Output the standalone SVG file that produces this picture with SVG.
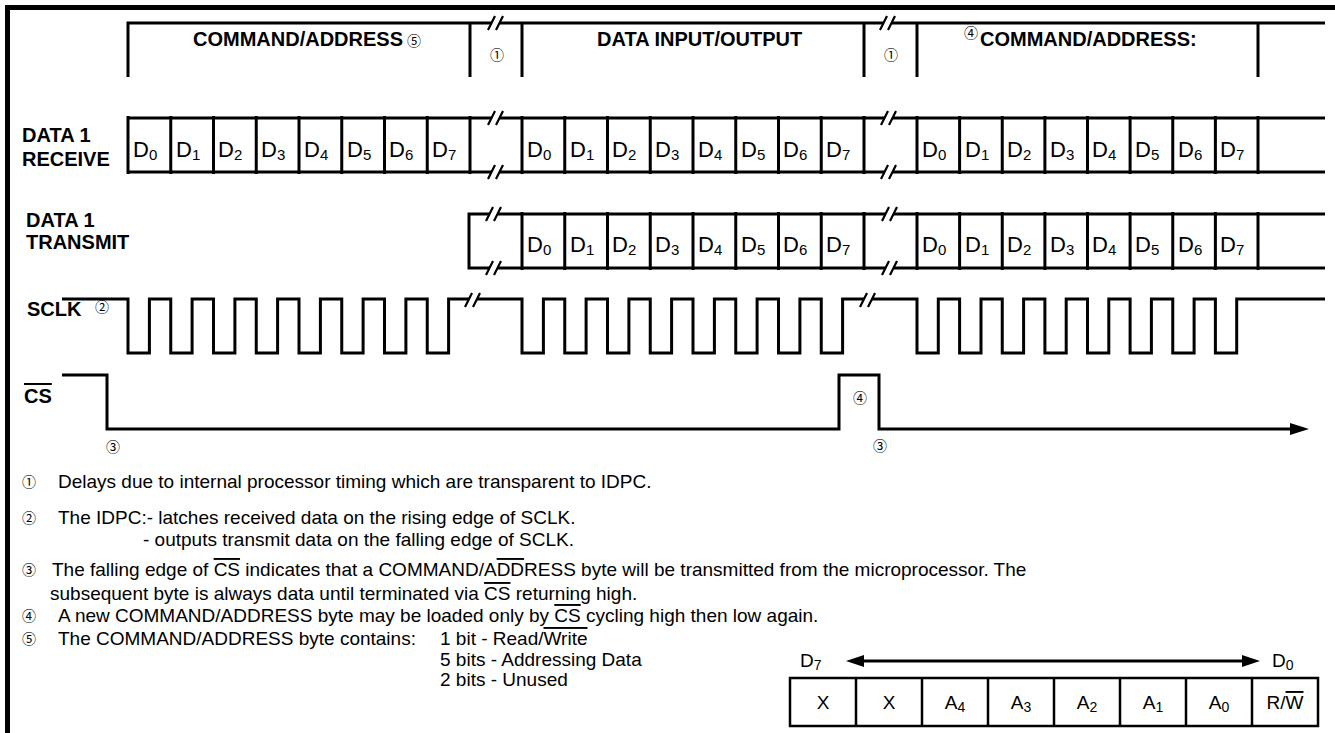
<svg xmlns="http://www.w3.org/2000/svg" width="1335" height="733" viewBox="0 0 1335 733">
<style>
.ln{stroke:#000;stroke-width:3;fill:none}
.bx{stroke:#000;stroke-width:2.5;fill:none}
.bk{stroke:#000;stroke-width:2.2;fill:none}
.lbl{font-family:"Liberation Sans",Arial,sans-serif;font-weight:bold;font-size:20px;fill:#000}
.d{font-family:"Liberation Sans",Arial,sans-serif;font-size:22px;fill:#000}
.n{font-family:"Liberation Sans",Arial,sans-serif;font-size:19px;fill:#000}
.c{font-family:"Noto Sans CJK JP","DejaVu Sans",sans-serif;font-size:14px;fill:#000}
.ov{text-decoration:overline}
</style>
<defs>
<g id="brk"><path class="bk" d="M-8,7 L-1,-7 M0,7 L7,-7"/></g>
</defs>
<g id="frame"><path d="M5,7.5 H1335 M7.5,5 V733" stroke="#000" stroke-width="5" fill="none"/></g>

<g id="connectors">
<path class="ln" d="M128,77 V23 H492 M500,23 H884 M892,23 H1325 M470,23 V77 M522,23 V77 M864,23 V77 M917,23 V77 M1258,23 V77"/>
<use href="#brk" x="496" y="23"/><use href="#brk" x="888" y="23"/>
<path class="ln" d="M128,118 H492 M500,118 H885 M893,118 H1325 M128,172 H492 M500,172 H885 M893,172 H1325"/>
<path class="ln" d="M128,116 V174 M170.75,116 V174 M213.5,116 V174 M256.25,116 V174 M299,116 V174 M341.75,116 V174 M384.5,116 V174 M427.25,116 V174 M470,116 V174 M522,116 V174 M564.75,116 V174 M607.5,116 V174 M650.25,116 V174 M693,116 V174 M735.75,116 V174 M778.5,116 V174 M821.25,116 V174 M864,116 V174 M917,116 V174 M959.6,116 V174 M1002.25,116 V174 M1044.9,116 V174 M1087.5,116 V174 M1130.1,116 V174 M1172.75,116 V174 M1215.4,116 V174 M1258,116 V174"/>
<use href="#brk" x="496" y="118"/><use href="#brk" x="496" y="172"/><use href="#brk" x="889" y="118"/><use href="#brk" x="889" y="172"/>
<path class="ln" d="M490,214 H469 V268 H490 M498,214 H886 M894,214 H1325 M498,268 H886 M894,268 H1325"/>
<path class="ln" d="M522,212 V270 M564.75,212 V270 M607.5,212 V270 M650.25,212 V270 M693,212 V270 M735.75,212 V270 M778.5,212 V270 M821.25,212 V270 M864,212 V270 M917,212 V270 M959.6,212 V270 M1002.25,212 V270 M1044.9,212 V270 M1087.5,212 V270 M1130.1,212 V270 M1172.75,212 V270 M1215.4,212 V270 M1258,212 V270"/>
<use href="#brk" x="494" y="214"/><use href="#brk" x="494" y="268"/><use href="#brk" x="890" y="214"/><use href="#brk" x="890" y="268"/>
<path id="sclk" class="ln" d="M62,299 H128 V353 H149.4 V299 H170.75 V353 H192.1 V299 H213.5 V353 H234.9 V299 H256.25 V353 H277.6 V299 H299 V353 H320.4 V299 H341.75 V353 H363.1 V299 H384.5 V353 H405.9 V299 H427.25 V353 H448.6 V299 H469 M477,299 H522 V353 H543.4 V299 H564.75 V353 H586.1 V299 H607.5 V353 H628.9 V299 H650.25 V353 H671.6 V299 H693 V353 H714.4 V299 H735.75 V353 H757.1 V299 H778.5 V353 H799.9 V299 H821.25 V353 H842.6 V299 H864 M872,299 H917 V353 H938.3 V299 H959.6 V353 H981 V299 H1002.25 V353 H1023.6 V299 H1044.9 V353 H1066.2 V299 H1087.5 V353 H1108.8 V299 H1130.1 V353 H1151.4 V299 H1172.75 V353 H1194.1 V299 H1215.4 V353 H1236.7 V299 H1325"/>
<use href="#brk" x="473" y="300"/><use href="#brk" x="868" y="300"/>
<path id="cs" class="ln" d="M62,375 H107 V429 H839 V375 H879 V429 H1292"/>
<polygon points="1290,423 1309,429 1290,435" fill="#000"/>
</g>

<g id="phase-labels">
<text class="lbl" x="193" y="46">COMMAND/ADDRESS</text><text class="c" x="407" y="46" font-size="17">⑤</text>
<text class="c" x="490" y="60">①</text>
<text class="lbl" x="597" y="46">DATA INPUT/OUTPUT</text>
<text class="c" x="884" y="60">①</text>
<text class="c" x="964" y="38" font-size="13">④</text><text class="lbl" x="980" y="46">COMMAND/ADDRESS:</text>
</g>

<g id="signal-labels">
<text class="lbl" x="22" y="142">DATA 1<tspan x="22" dy="24">RECEIVE</tspan></text>
<text class="lbl" x="26" y="227" font-size="19">DATA 1<tspan x="26" dy="21.5">TRANSMIT</tspan></text>
<text class="lbl" x="27" y="316">SCLK</text><text class="c" x="95" y="312" font-size="13">②</text>
<text class="lbl ov" x="24" y="403">CS</text>
<text class="c" x="106" y="452">③</text>
<text class="c" x="853" y="403">④</text>
<text class="c" x="873" y="451">③</text>
</g>

<g id="receive-bits">
<text class="d" x="133" y="157">D<tspan font-size="15" dy="3">0</tspan></text>
<text class="d" x="176" y="157">D<tspan font-size="15" dy="3">1</tspan></text>
<text class="d" x="218" y="157">D<tspan font-size="15" dy="3">2</tspan></text>
<text class="d" x="261" y="157">D<tspan font-size="15" dy="3">3</tspan></text>
<text class="d" x="304" y="157">D<tspan font-size="15" dy="3">4</tspan></text>
<text class="d" x="347" y="157">D<tspan font-size="15" dy="3">5</tspan></text>
<text class="d" x="389" y="157">D<tspan font-size="15" dy="3">6</tspan></text>
<text class="d" x="432" y="157">D<tspan font-size="15" dy="3">7</tspan></text>
<text class="d" x="527" y="157">D<tspan font-size="15" dy="3">0</tspan></text>
<text class="d" x="570" y="157">D<tspan font-size="15" dy="3">1</tspan></text>
<text class="d" x="612" y="157">D<tspan font-size="15" dy="3">2</tspan></text>
<text class="d" x="655" y="157">D<tspan font-size="15" dy="3">3</tspan></text>
<text class="d" x="698" y="157">D<tspan font-size="15" dy="3">4</tspan></text>
<text class="d" x="741" y="157">D<tspan font-size="15" dy="3">5</tspan></text>
<text class="d" x="783" y="157">D<tspan font-size="15" dy="3">6</tspan></text>
<text class="d" x="826" y="157">D<tspan font-size="15" dy="3">7</tspan></text>
<text class="d" x="922" y="157">D<tspan font-size="15" dy="3">0</tspan></text>
<text class="d" x="965" y="157">D<tspan font-size="15" dy="3">1</tspan></text>
<text class="d" x="1007" y="157">D<tspan font-size="15" dy="3">2</tspan></text>
<text class="d" x="1050" y="157">D<tspan font-size="15" dy="3">3</tspan></text>
<text class="d" x="1092" y="157">D<tspan font-size="15" dy="3">4</tspan></text>
<text class="d" x="1135" y="157">D<tspan font-size="15" dy="3">5</tspan></text>
<text class="d" x="1178" y="157">D<tspan font-size="15" dy="3">6</tspan></text>
<text class="d" x="1220" y="157">D<tspan font-size="15" dy="3">7</tspan></text>
</g>
<g id="transmit-bits">
<text class="d" x="527" y="252">D<tspan font-size="15" dy="3">0</tspan></text>
<text class="d" x="570" y="252">D<tspan font-size="15" dy="3">1</tspan></text>
<text class="d" x="612" y="252">D<tspan font-size="15" dy="3">2</tspan></text>
<text class="d" x="655" y="252">D<tspan font-size="15" dy="3">3</tspan></text>
<text class="d" x="698" y="252">D<tspan font-size="15" dy="3">4</tspan></text>
<text class="d" x="741" y="252">D<tspan font-size="15" dy="3">5</tspan></text>
<text class="d" x="783" y="252">D<tspan font-size="15" dy="3">6</tspan></text>
<text class="d" x="826" y="252">D<tspan font-size="15" dy="3">7</tspan></text>
<text class="d" x="922" y="252">D<tspan font-size="15" dy="3">0</tspan></text>
<text class="d" x="965" y="252">D<tspan font-size="15" dy="3">1</tspan></text>
<text class="d" x="1007" y="252">D<tspan font-size="15" dy="3">2</tspan></text>
<text class="d" x="1050" y="252">D<tspan font-size="15" dy="3">3</tspan></text>
<text class="d" x="1092" y="252">D<tspan font-size="15" dy="3">4</tspan></text>
<text class="d" x="1135" y="252">D<tspan font-size="15" dy="3">5</tspan></text>
<text class="d" x="1178" y="252">D<tspan font-size="15" dy="3">6</tspan></text>
<text class="d" x="1220" y="252">D<tspan font-size="15" dy="3">7</tspan></text>
</g>

<g id="notes">
<text class="c" x="22" y="487">①</text><text class="n" x="58" y="488">Delays due to internal processor timing which are transparent to IDPC.</text>
<text class="c" x="22" y="523">②</text><text class="n" x="58" y="524">The IDPC:- latches received data on the rising edge of SCLK.<tspan x="143" dy="21.5">- outputs transmit data on the falling edge of SCLK.</tspan></text>
<text class="c" x="22" y="575">③</text><text class="n" x="52" y="576">The falling edge of <tspan class="ov">CS</tspan> indicates that a COMMAND/A<tspan class="ov">DD</tspan>RESS byte will be transmitted from the microprocessor. The<tspan x="50" dy="24">subsequent byte is always data until terminated via </tspan><tspan class="ov">CS</tspan>  returning high.</text>
<text class="c" x="22" y="621">④</text><text class="n" x="58" y="622">A new COMMAND/ADDRESS byte may be loaded only by <tspan class="ov">CS</tspan> cycling high then low again.</text>
<text class="c" x="22" y="644">⑤</text><text class="n" x="58" y="645">The COMMAND/ADDRESS byte contains:</text>
<text class="n" x="440" y="645" font-size="18">1 bit - Read/<tspan class="ov">Write</tspan><tspan x="440" dy="20.5">5 bits - Addressing Data</tspan><tspan x="440" dy="20.5">2 bits - Unused</tspan></text>
</g>

<g id="byte-format">
<text class="n" x="800" y="667">D<tspan font-size="14" dy="3">7</tspan></text>
<path class="ln" d="M860,661 H1246"/>
<polygon points="846,661 864,655 864,667" fill="#000"/>
<polygon points="1260,661 1242,655 1242,667" fill="#000"/>
<text class="n" x="1272" y="667">D<tspan font-size="14" dy="3">0</tspan></text>
<rect class="bx" x="790" y="678" width="528" height="48"/>
<path class="bx" d="M856,678 V726 M922,678 V726 M988,678 V726 M1054,678 V726 M1120,678 V726 M1186,678 V726 M1252,678 V726"/>
<text class="n" x="823" y="709" text-anchor="middle">X</text>
<text class="n" x="889" y="709" text-anchor="middle">X</text>
<text class="n" x="955" y="709" text-anchor="middle">A<tspan font-size="14" dy="3">4</tspan></text>
<text class="n" x="1021" y="709" text-anchor="middle">A<tspan font-size="14" dy="3">3</tspan></text>
<text class="n" x="1087" y="709" text-anchor="middle">A<tspan font-size="14" dy="3">2</tspan></text>
<text class="n" x="1153" y="709" text-anchor="middle">A<tspan font-size="14" dy="3">1</tspan></text>
<text class="n" x="1219" y="709" text-anchor="middle">A<tspan font-size="14" dy="3">0</tspan></text>
<text class="n" x="1285" y="709" text-anchor="middle">R/<tspan class="ov">W</tspan></text>
</g>
</svg>
